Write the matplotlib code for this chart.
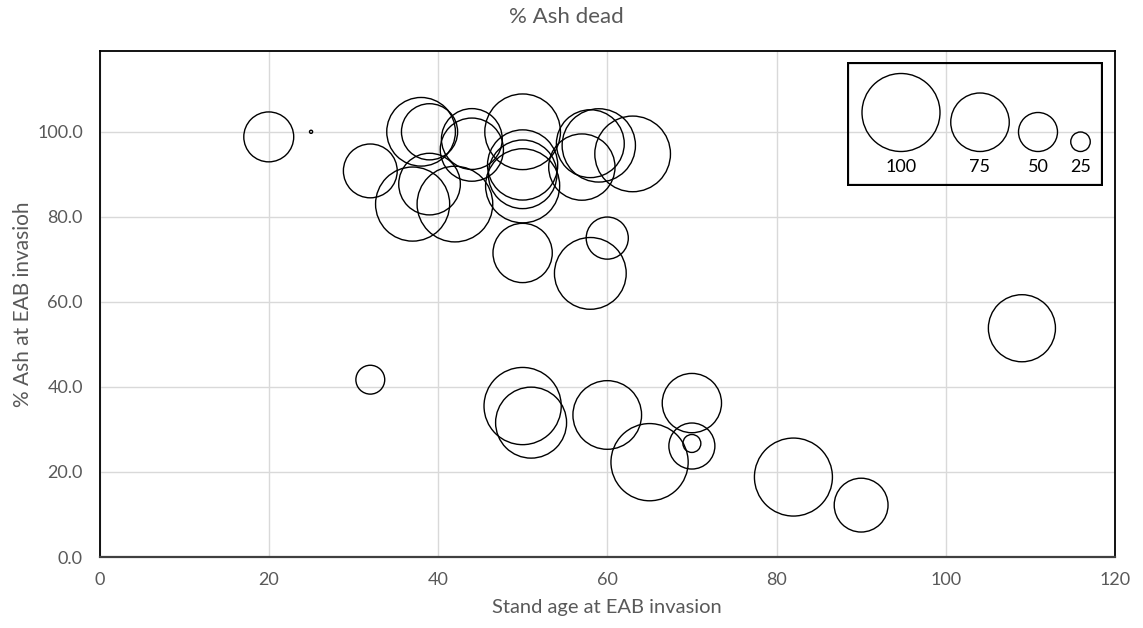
import numpy as np
import matplotlib
matplotlib.use('Agg')
import matplotlib.pyplot as plt
from matplotlib.patches import Rectangle

# dane: wiek drzewostanu, % jesionu, % martwych jesionow (rozmiar babla)
stand_age = [20, 25, 32, 38, 39, 39, 37, 42, 44, 44, 50, 50, 50, 50, 50, 58,
             59, 57, 63, 60, 58, 32, 50, 51, 60, 65, 70, 70, 70, 109, 82, 90]
ash_pct = [98.8, 100.0, 90.8, 100.0, 100.0, 87.7, 83.0, 83.0, 98.3, 95.8, 100.0,
           92.2, 90.0, 87.3, 71.5, 97.2, 96.8, 91.7, 94.8, 75.0, 66.7, 41.7,
           35.5, 31.6, 33.4, 22.3, 36.2, 26.1, 26.7, 53.8, 18.8, 12.2]
ash_dead = [64, 4, 69, 88, 72, 79, 95, 97, 78, 81, 97, 90, 88, 95, 76, 87,
            94, 85, 97, 54, 92, 37, 99, 91, 88, 99, 76, 59, 23, 86, 100, 69]

legend_vals = [100, 75, 50, 25]
legend_labels = ['100', '75', '50', '25']

x_ticks = [0, 20, 40, 60, 80, 100, 120]
y_ticks = [0, 20, 40, 60, 80, 100]

W, H = 1143, 628
PX_PER_VAL = 0.78  # srednica babla w px na 1% martwych


def bubble_s(v):
    # srednica w px -> pole markera w pt^2 (dpi 100)
    d = np.asarray(v, dtype=float) * PX_PER_VAL * 0.72
    return d ** 2


plt.rcParams['font.family'] = ['Lato', 'DejaVu Sans']
grey = '#595959'

fig = plt.figure(figsize=(W / 100, H / 100), dpi=100)
ax = fig.add_axes([99.5 / W, 1 - 557 / H, (1115 - 99.5) / W, (557 - 51) / H])

ax.scatter(stand_age, ash_pct, s=bubble_s(ash_dead), facecolors='none',
           edgecolors='black', linewidths=1.0, zorder=3)

ax.set_xlim(0, 120)
ax.set_ylim(0, 119)
ax.set_xticks(x_ticks)
ax.set_yticks(y_ticks)
ax.set_yticklabels([f'{v:.1f}' for v in y_ticks])
ax.tick_params(length=0, labelsize=13, colors=grey)
ax.tick_params(axis='x', pad=11)
ax.tick_params(axis='y', pad=12)
ax.grid(True, color='#D9D9D9', linewidth=1.0, zorder=0)
ax.set_axisbelow(True)
for sp in ax.spines.values():
    sp.set_color('black')
    sp.set_linewidth(1.3)
ax.spines['bottom'].set_color('#404040')
ax.spines['bottom'].set_linewidth(1.6)

ax.set_xlabel('Stand age at EAB invasion', fontsize=14.5, color=grey, labelpad=8)
ax.set_ylabel('% Ash at EAB invasioh', fontsize=15, color=grey, labelpad=3)
fig.text(566 / W, 1 - 17 / H, '% Ash dead', ha='center', va='center',
         fontsize=16, color=grey)

# legenda rozmiarow babli
lx0, lx1, ly0, ly1 = 847.3, 1103.3, 62.3, 186
lax = fig.add_axes([lx0 / W, 1 - ly1 / H, (lx1 - lx0) / W, (ly1 - ly0) / H])
lax.set_xlim(lx0, lx1)
lax.set_ylim(ly1, ly0)
lax.axis('off')
lax.add_patch(Rectangle((lx0 + 1, ly0 + 1), lx1 - lx0 - 2, ly1 - ly0 - 2,
                        fill=False, edgecolor='black', linewidth=1.6))
leg_x = [901, 980, 1038, 1080.5]
leg_bottom = 151.5
for xx, v, lab in zip(leg_x, legend_vals, legend_labels):
    d = v * PX_PER_VAL
    lax.scatter([xx], [leg_bottom - d / 2], s=bubble_s([v]), facecolors='none',
                edgecolors='black', linewidths=1.0, clip_on=False)
    lax.text(xx, 167.5, lab, ha='center', va='center', fontsize=13,
             color='black')

fig.savefig('out.png', dpi=100)
